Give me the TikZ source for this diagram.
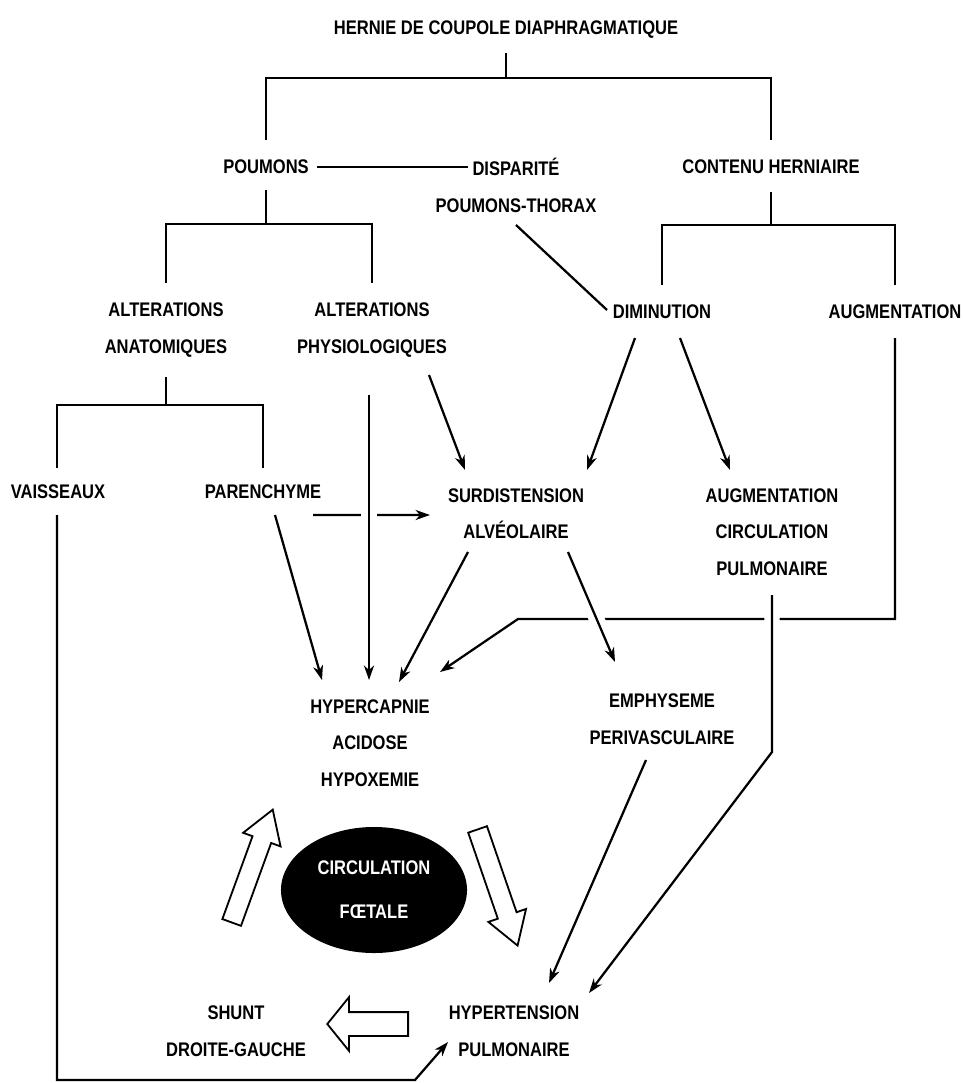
\documentclass[tikz,border=0pt]{standalone}
\usepackage{fontspec}
\setmainfont{Liberation Sans}[FakeStretch=0.84]
\usetikzlibrary{arrows.meta}
\usetikzlibrary{shapes.geometric}
\usetikzlibrary{shapes.arrows}

\begin{document}
\begin{tikzpicture}[x=0.025cm,y=-0.025cm,line width=1.6pt,
	txt/.style={font=\fontsize{14}{26}\selectfont\bfseries,align=center,inner sep=0pt},
	fl/.style={-{Stealth[length=3.6mm,width=2.5mm,inset=1.1mm]}},
	pont/.style={preaction={draw=white,line width=11pt,-}},
	creux/.style={single arrow,draw,fill=white,line width=1.3pt,inner xsep=0pt,single arrow head indent=0pt}]

	\useasboundingbox (0,0) rectangle (962,1083);

	%% Textes %%
	\node[txt] (hernie) at (506,30) {HERNIE DE COUPOLE DIAPHRAGMATIQUE};
	\node[txt] (poumons) at (266,167) {POUMONS};
	\node[txt] (disparite) at (516,185.5) {DISPARITÉ\\POUMONS-THORAX};
	\node[txt] (contenu) at (771,167) {CONTENU HERNIAIRE};
	\node[txt] (altanat) at (166,330) {ALTERATIONS\\ANATOMIQUES};
	\node[txt] (altphys) at (372,330) {ALTERATIONS\\PHYSIOLOGIQUES};
	\node[txt] (diminution) at (662,312) {DIMINUTION};
	\node[txt] (augmentation) at (895,312) {AUGMENTATION};
	\node[txt] (vaisseaux) at (58,492) {VAISSEAUX};
	\node[txt] (parenchyme) at (263,492) {PARENCHYME};
	\node[txt] (surdist) at (516,513.5) {SURDISTENSION\\ALVÉOLAIRE};
	\node[txt] (augcirc) at (772,532) {AUGMENTATION\\CIRCULATION\\PULMONAIRE};
	\node[txt] (hypercap) at (370,743) {HYPERCAPNIE\\ACIDOSE\\HYPOXEMIE};
	\node[txt] (emphyseme) at (662,719) {EMPHYSEME\\PERIVASCULAIRE};
	\node[txt,ellipse,fill=black,text=white,minimum width=4.65cm,minimum height=3.15cm] (foetale) at (374,890) {CIRCULATION\\[0.19cm]FŒTALE};
	\node[txt] (shunt) at (236,1031) {SHUNT\\DROITE-GAUCHE};
	\node[txt] (hypert) at (514,1031) {HYPERTENSION\\PULMONAIRE};

	%% Arborescence %%
	\draw ([shift={(0,23)}]hernie.center) -- ([shift={(0,48)}]hernie.center) coordinate (j1);
	\draw ([shift={(0,-27)}]poumons.center) |- (j1) -| ([shift={(0,-27)}]contenu.center);
	\draw ([shift={(0,23)}]poumons.center) -- ([shift={(0,57)}]poumons.center) coordinate (j2);
	\draw ([shift={(0,-47)}]altanat.center) |- (j2) -| ([shift={(0,-47)}]altphys.center);
	\draw ([shift={(0,25)}]contenu.center) -- ([shift={(0,58)}]contenu.center) coordinate (j3);
	\draw ([shift={(0,-27)}]diminution.center) |- (j3) -| ([shift={(0,-27)}]augmentation.center);
	\draw ([shift={(0,47)}]altanat.center) -- ([shift={(0,75)}]altanat.center) coordinate (j4);
	\draw ([shift={(-1,-24)}]vaisseaux.center) |- (j4) -| ([shift={(0,-24)}]parenchyme.center);
	\draw ([shift={(51,0)}]poumons.center) -- ([shift={(-48,-18.5)}]disparite.center);
	\draw ([shift={(0,39.5)}]disparite.center) -- ([shift={(-55,-2)}]diminution.center);

	%% Fleches %%
	\draw[fl] ([shift={(57,45)}]altphys.center) -- ([shift={(-51,-43.5)}]surdist.center);
	\draw[fl] ([shift={(50,23)}]parenchyme.center) -- ([shift={(-86,1.5)}]surdist.center);
	\draw[fl,pont] ([shift={(-3,65)}]altphys.center) -- ([shift={(-1,-63)}]hypercap.center);
	\draw[fl] ([shift={(-27,26)}]diminution.center) -- ([shift={(71,-43.5)}]surdist.center);
	\draw[fl] ([shift={(18,26)}]diminution.center) -- ([shift={(-42,-62)}]augcirc.center);
	\draw[fl] ([shift={(12,23)}]parenchyme.center) -- ([shift={(-48,-63)}]hypercap.center);
	\draw[fl] ([shift={(-48,38.5)}]surdist.center) -- ([shift={(29,-61)}]hypercap.center);
	\draw[fl] ([shift={(0,26)}]augmentation.center) |- ([shift={(148,-124)}]hypercap.center) -- ([shift={(70,-71)}]hypercap.center);
	\draw[fl,pont] ([shift={(52,38.5)}]surdist.center) -- ([shift={(-47,-57)}]emphyseme.center);
	\draw[fl,pont] ([shift={(0,63)}]augcirc.center) -- ([shift={(0,220)}]augcirc.center) -- ([shift={(75,-38)}]hypert.center);
	\draw[fl] ([shift={(-16,41)}]emphyseme.center) -- ([shift={(35,-48)}]hypert.center);
	\draw[fl] ([shift={(-1,23)}]vaisseaux.center) |- ([shift={(-99,49)}]hypert.center) -- ([shift={(-66,11)}]hypert.center);

	%% Fleches creuses %%
	\node[creux,minimum height=3cm,inner ysep=0.225cm,single arrow head extend=0.25cm,single arrow tip angle=64,rotate=70] (creux1) at (249.5,873.5) {};
	\node[creux,minimum height=3.07cm,inner ysep=0.225cm,single arrow head extend=0.25cm,single arrow tip angle=64,rotate=-71] (creux2) at (495,880) {};
	\node[creux,minimum height=2.02cm,inner ysep=0.275cm,single arrow head extend=0.375cm,single arrow tip angle=102,rotate=180] (creux3) at (372.5,1024) {};

\end{tikzpicture}
\end{document}
